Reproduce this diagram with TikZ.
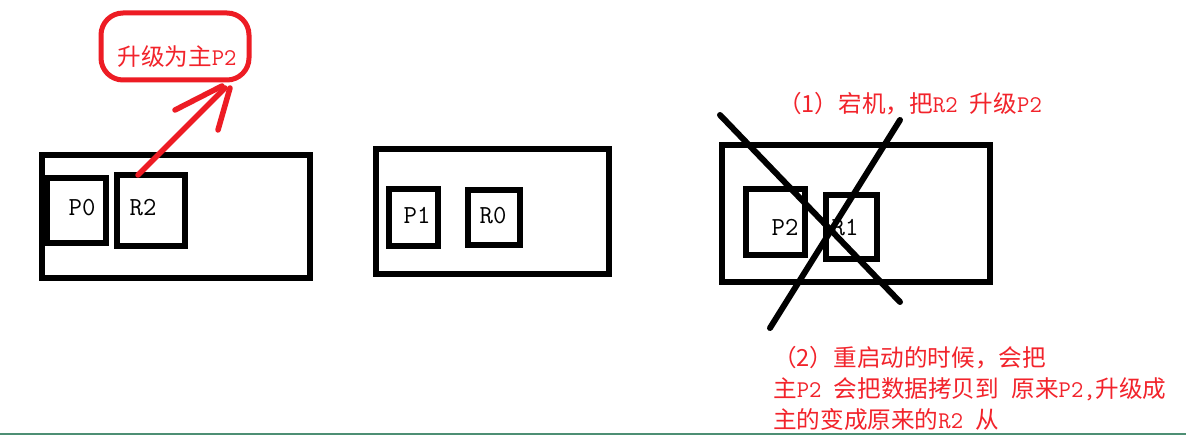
\documentclass[tikz,border=0pt]{standalone}
\usepackage{fontspec}
\setmainfont{Noto Sans CJK SC}
\newcommand\latn[1]{{\ttfamily\fontsize{24pt}{24pt}\selectfont #1}}
\definecolor{paintred}{HTML}{ED1C24}
\definecolor{txtred}{HTML}{F2232B}
\definecolor{pagegreen}{HTML}{4E8F74}
\begin{document}
\begin{tikzpicture}[x=1pt,y=-1pt,
  hostbox/.style={draw=black,line width=6.5pt,rectangle,inner sep=0pt},
  procbox/.style={draw=black,line width=6.5pt,rectangle,inner sep=0pt},
  boxlabel/.style={inner sep=0pt,anchor=base,font=\ttfamily\fontsize{26pt}{26pt}\selectfont},
  redtext/.style={inner sep=0pt,text=txtred,font=\fontsize{23.6pt}{31pt}\selectfont},
  redstroke/.style={draw=paintred,line width=5.5pt,line cap=round},
  crossline/.style={draw=black,line width=6pt,line cap=round}]
\useasboundingbox (0,0) rectangle (1186,443);
\fill[white] (0,0) rectangle (1186,443);

% host 1
\node[hostbox,minimum width=268pt,minimum height=123pt] (h1) at (176,216.5) {};
\node[procbox,minimum width=59pt,minimum height=65pt] (p0) at (76.5,210.5) {};
\node[procbox,minimum width=68pt,minimum height=71pt] (r2) at (151,210.5) {};
\node[boxlabel] (p0l) at (82,216) {P0};
\node[boxlabel] (r2l) at (143,216) {R2};

% promotion bubble
\node[draw=paintred,line width=5pt,rounded corners=22pt,minimum width=148pt,minimum height=67pt] (bubble) at (175,46.5) {};
\node[redtext,anchor=base] (bubblet) at (177,66) {升级为主\latn{P2}};

% arrow
\coordinate (atail) at (138,175);
\coordinate (atip) at (225,88);
\coordinate (ahl) at (175,110);
\coordinate (ahr) at (218,130);
\coordinate (ahrtip) at (230,88);
\draw[redstroke] (atail) -- (atip);
\draw[redstroke] (ahl) -- (222,86);
\draw[redstroke] (ahr) -- (ahrtip);

% host 2
\node[hostbox,minimum width=233pt,minimum height=125pt] (h2) at (492.5,211.5) {};
\node[procbox,minimum width=49pt,minimum height=57pt] (p1) at (413.5,217.5) {};
\node[procbox,minimum width=52pt,minimum height=55pt] (r0) at (494,217.5) {};
\node[boxlabel] (p1l) at (417,224) {P1};
\node[boxlabel] (r0l) at (493,224) {R0};

% host 3
\node[hostbox,minimum width=268pt,minimum height=137pt] (h3) at (856,213.5) {};
\node[procbox,minimum width=59pt,minimum height=66pt] (p2) at (775.5,222) {};
\node[procbox,minimum width=51pt,minimum height=64pt] (r1) at (851.5,227) {};
\node[boxlabel] (p2l) at (785,236) {P2};
\node[boxlabel] (r1l) at (845,236) {R1};

% cross
\coordinate (c1a) at (720,115);
\coordinate (c1b) at (900,302);
\coordinate (c2a) at (900,120);
\coordinate (c2b) at (770,328);
\draw[crossline] (c1a) -- (c1b);
\draw[crossline] (c2a) -- (c2b);

% notes
\node[redtext,anchor=base west] (note1) at (778,113) {（1）宕机，把\latn{R2 }升级\latn{P2}};
\node[redtext,anchor=north west,align=left] (note2) at (773,346)
  {（2）重启动的时候，会把\\
   主\latn{P2 }会把数据拷贝到\latn{ }原来\latn{P2,}升级成\\
   主的变成原来的\latn{R2 }从};

% page edge
\coordinate (gl) at (0,434);
\coordinate (gr) at (1186,434);
\draw[pagegreen,line width=2pt] (gl) -- (gr);
\end{tikzpicture}
\end{document}
